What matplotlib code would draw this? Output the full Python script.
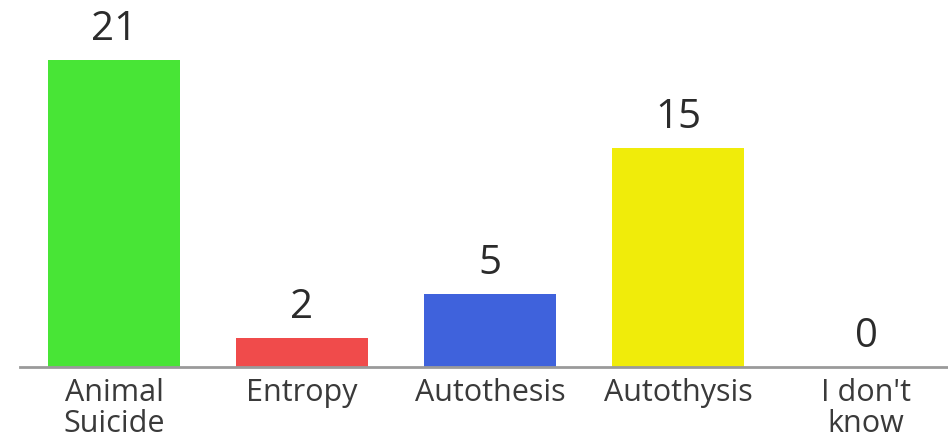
import matplotlib
matplotlib.use("Agg")
import matplotlib.pyplot as plt
import numpy as np

categories = ["Animal\nSuicide", "Entropy", "Autothesis", "Autothysis", "I don't\nknow"]
counts = [21, 2, 5, 15, 0]
bar_colors = ["#48E536", "#F04B4B", "#3F62DC", "#F0EC0A", "#FFFFFF"]

plt.rcParams["font.family"] = ["Open Sans", "DejaVu Sans"]

fig = plt.figure(figsize=(9.48, 4.42), dpi=100)
W, H = 948, 442
base_y = 367
ax = fig.add_axes([20 / W, (H - base_y) / H, 1 - 20 / W, base_y / H])

x = np.arange(len(categories))
ax.bar(x, counts, width=0.70, color=bar_colors)

for xi, c in zip(x, counts):
    ax.annotate(str(c), (xi, c), xytext=(0, 7), textcoords="offset points",
                ha="center", va="bottom", fontsize=29, color="#2b2b2b")

scale = 307 / 21  # px per unit
ax.set_ylim(0, base_y / scale)
ax.set_xlim(-0.5, -0.5 + (W - 20) / 188)

ax.set_xticks(x)
ax.set_xticklabels(categories, fontsize=22, color="#3a3a3a", linespacing=1.05)
ax.tick_params(axis="x", length=0, pad=8)
ax.set_yticks([])
for side in ["top", "right", "left"]:
    ax.spines[side].set_visible(False)
ax.spines["bottom"].set_color("#9a9a9a")
ax.spines["bottom"].set_linewidth(2)

fig.savefig("out.png", dpi=100)
